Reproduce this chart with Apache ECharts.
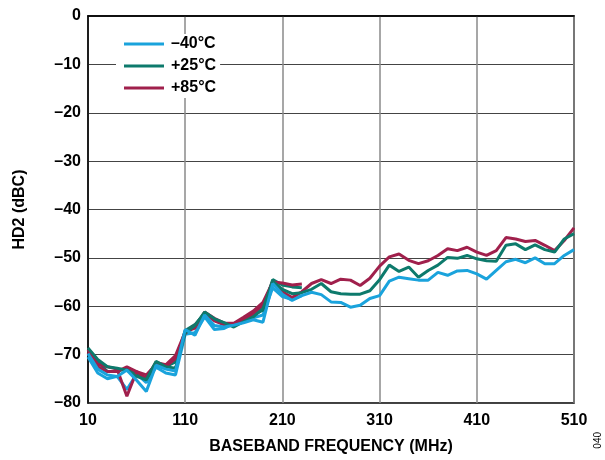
<!DOCTYPE html>
<html>
<head>
<meta charset="utf-8">
<script src="https://cdn.jsdelivr.net/npm/echarts@6/dist/echarts.min.js"></script>
<style>
  html, body { margin: 0; padding: 0; background: #fff; }
  #chart { width: 605px; height: 460px; }
</style>
</head>
<body>
<div id="chart"></div>
<script>
  // baseband frequency, MHz
  var freq = [10, 20, 30, 40, 50, 60, 70, 80, 90, 100,
    110, 120, 130, 140, 150, 160, 170, 180, 190, 200,
    210, 220, 230, 240, 250, 260, 270, 280, 290, 300,
    310, 320, 330, 340, 350, 360, 370, 380, 390, 400,
    410, 420, 430, 440, 450, 460, 470, 480, 490, 500, 510];
  var freqShort = [10, 20, 30, 40, 50, 60, 70, 80, 90, 100,
    110, 120, 130, 140, 150, 160, 170, 180, 190, 200, 210, 220, 230];

  // HD2, dBc
  var hdM40 = [-69.8, -73, -74.2, -74.5, -73.2, -75.3, -77.6, -72.2, -73, -73.4,
    -64.8, -66, -61.8, -64, -64.3, -63.9, -63.4, -62.8, -63.3, -55.3,
    -57.5, -58.8, -57.8, -57.1, -57.6, -59.1, -59.2, -60.2, -59.8, -58.4,
    -57.8, -54.8, -54, -54.3, -54.6, -54.6, -53, -53.6, -52.7, -52.6,
    -53.3, -54.4, -52.6, -50.8, -50.3, -51, -50, -51.2, -51.2, -49.5, -48.3];
  var hdP25 = [-68.6, -71, -72.5, -72.8, -73.2, -74.5, -75.2, -71.4, -72.5, -72.8,
    -65.5, -64, -61.2, -62.6, -63.4, -64.3, -63.2, -62.2, -60.5, -54.8,
    -56.5, -57.4, -57.2, -56.5, -55.3, -57, -57.4, -57.5, -57.5, -56.8,
    -54.5, -51.5, -52.8, -51.9, -54, -52.6, -51.5, -49.9, -50.1, -49.5,
    -50.2, -50.6, -50.7, -47.4, -47.1, -48.3, -47.3, -48.3, -48.8, -46.1, -45];
  var hdP85 = [-69, -72, -72.5, -73, -78.6, -73.5, -74.9, -71.6, -72.1, -70.2,
    -65.3, -64.5, -61.2, -62.5, -63.5, -63.5, -62.3, -61, -59.2, -55,
    -57, -58.2, -57, -55.3, -54.5, -55.3, -54.4, -54.6, -55.7, -54.2,
    -51.7, -49.8, -49.2, -50.5, -51.2, -50.6, -49.5, -48.1, -48.5, -47.8,
    -48.8, -49.5, -48.5, -45.8, -46.1, -46.6, -46.4, -47.4, -48.5, -46.4, -43.8];

  // second set of devices, measured up to ~230 MHz
  var hdM40b = [-70.5, -73.8, -75, -74.5, -77.2, -74, -75.8, -72.6, -73.8, -74.2,
    -65.8, -65.5, -62.2, -64.8, -64.6, -63.6, -63.2, -62.4, -61.8, -56.2, -58, -58.6, -57.8];
  var hdP25b = [-69, -71.5, -73.5, -73.5, -72.8, -74, -75, -72, -72.5, -71.5,
    -65, -63.8, -61.5, -62.8, -63.8, -63.6, -62.8, -61.8, -60.8, -54.5, -55.6, -56, -56.2];
  var hdP85b = [-69.5, -72.5, -73.5, -73.5, -72.5, -73.5, -74.2, -72, -72.5, -70.8,
    -65.6, -64, -61.5, -63, -63.8, -64, -62.8, -61.5, -59.8, -55, -55.2, -55.6, -55.4];

  var cBlue = '#1aa3dc', cGreen = '#0d7a6c', cRed = '#a0204c';
  var font = '"Liberation Sans", Arial, sans-serif';

  // axis runs 0..500 so that ticks land on 10, 110, 210 ...
  function pts(xs, ys) {
    var out = [];
    for (var i = 0; i < xs.length; i++) out.push([xs[i] - 10, ys[i]]);
    return out;
  }
  function line(name, color, xs, ys) {
    return {
      name: name, type: 'line', data: pts(xs, ys),
      showSymbol: false, symbol: 'none', z: 3,
      lineStyle: { color: color, width: 3 },
      itemStyle: { color: color }
    };
  }

  var myChart = echarts.init(document.getElementById('chart'));
  var option = {
    animation: false,
    grid: { left: 88, right: 31, top: 16, bottom: 55, show: true, borderColor: '#000', borderWidth: 1.5 },
    legend: {
      orient: 'vertical', left: 116, top: 34,
      data: ['\u201340\u00b0C', '+25\u00b0C', '+85\u00b0C'],
      icon: 'rect', itemWidth: 40, itemHeight: 3, itemGap: 6,
      backgroundColor: '#fff', padding: [2, 4, 2, 8],
      textStyle: { fontFamily: font, fontWeight: 'bold', fontSize: 16, color: '#000', padding: [0, 0, 0, 2] }
    },
    xAxis: {
      type: 'value', min: 0, max: 500, interval: 100,
      name: 'BASEBAND FREQUENCY (MHz)', nameLocation: 'middle', nameGap: 36,
      nameTextStyle: { fontFamily: font, fontWeight: 'bold', fontSize: 16, color: '#000' },
      axisLine: { show: true, lineStyle: { color: '#000', width: 1.5 } },
      axisTick: { show: false },
      axisLabel: {
        fontFamily: font, fontWeight: 'bold', fontSize: 16, color: '#000', margin: 10,
        formatter: function (v) { return String(v + 10); }
      },
      splitLine: { show: true, lineStyle: { color: '#8a8a8a', width: 1.5 } }
    },
    yAxis: {
      type: 'value', min: -80, max: 0, interval: 10,
      name: 'HD2 (dBC)', nameLocation: 'middle', nameGap: 60, nameRotate: 90,
      nameTextStyle: { fontFamily: font, fontWeight: 'bold', fontSize: 16, color: '#000' },
      axisLine: { show: true, lineStyle: { color: '#000', width: 1.5 } },
      axisTick: { show: false },
      axisLabel: {
        fontFamily: font, fontWeight: 'bold', fontSize: 16, color: '#000', margin: 7,
        formatter: function (v) { return v < 0 ? '\u2013' + (-v) : String(v); }
      },
      splitLine: { show: true, lineStyle: { color: '#444', width: 1 } }
    },
    graphic: [{
      type: 'text', left: 593, top: 432, rotation: Math.PI / 2,
      style: { text: '040', fontFamily: font, fontSize: 10, fill: '#000' }
    }],
    series: [
      line('\u201340\u00b0C', cBlue, freqShort, hdM40b),
      line('+25\u00b0C', cGreen, freqShort, hdP25b),
      line('+85\u00b0C', cRed, freqShort, hdP85b),
      line('+85\u00b0C', cRed, freq, hdP85),
      line('+25\u00b0C', cGreen, freq, hdP25),
      line('\u201340\u00b0C', cBlue, freq, hdM40)
    ]
  };
  myChart.setOption(option);
</script>
</body>
</html>
